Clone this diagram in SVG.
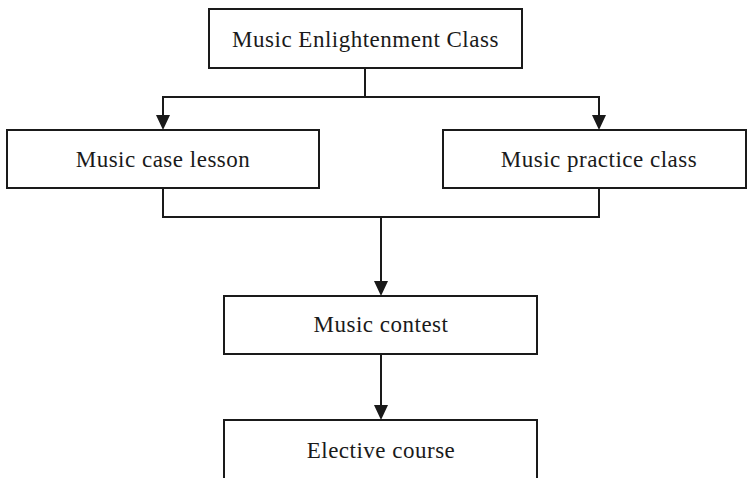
<svg xmlns="http://www.w3.org/2000/svg" width="748" height="478" viewBox="0 0 748 478">
<style>
.box{fill:#fff;stroke:#1a1a1a;stroke-width:2}
.lbl{font-family:"Liberation Serif","Times New Roman",serif;font-size:23px;letter-spacing:0.5px;fill:#1a1a1a;text-anchor:middle}
.ln{fill:none;stroke:#1a1a1a;stroke-width:2}
.ah{fill:#1a1a1a}
</style>
<rect width="748" height="478" fill="#fff"/>
<g id="connectors">
<path class="ln" d="M365,68 V97"/>
<path class="ln" d="M365,97 H163 V115"/>
<path class="ah" d="M156,115 L170,115 L163,130 Z"/>
<path class="ln" d="M365,97 H599 V115"/>
<path class="ah" d="M592,115 L606,115 L599,130 Z"/>
<path class="ln" d="M163,188 V217 H599 V188"/>
<path class="ln" d="M381,217 V281"/>
<path class="ah" d="M374,281 L388,281 L381,296 Z"/>
<path class="ln" d="M381,354 V405"/>
<path class="ah" d="M374,405 L388,405 L381,420 Z"/>
</g>
<g id="n1"><rect class="box" x="209" y="9" width="313" height="59"/><text class="lbl" x="365.5" y="47">Music Enlightenment Class</text></g>
<g id="n2"><rect class="box" x="7" y="130" width="312" height="58"/><text class="lbl" x="163" y="167">Music case lesson</text></g>
<g id="n3"><rect class="box" x="443" y="130" width="303" height="58"/><text class="lbl" x="599" y="167">Music practice class</text></g>
<g id="n4"><rect class="box" x="224" y="296" width="313" height="58"/><text class="lbl" x="381" y="332">Music contest</text></g>
<g id="n5"><rect class="box" x="224" y="420" width="313" height="70"/><text class="lbl" x="381" y="458">Elective course</text></g>
</svg>
